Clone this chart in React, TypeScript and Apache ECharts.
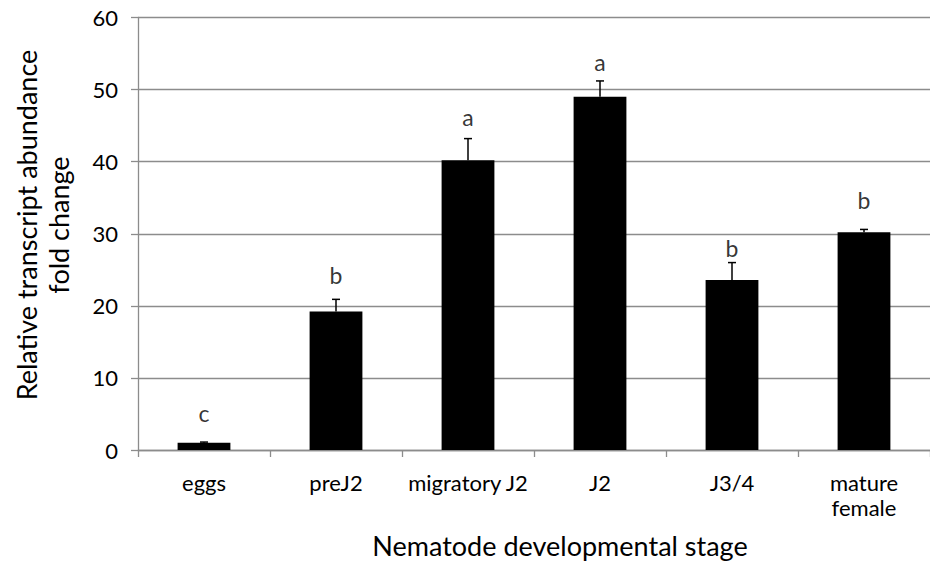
import React, { useEffect, useRef } from "react";
import * as echarts from "echarts";

const categories = ["eggs", "preJ2", "migratory J2", "J2", "J3/4", "mature\nfemale"];
const values = [1.0, 19.2, 40.2, 49.0, 23.6, 30.2];
const errors = [0.1, 1.7, 3.0, 2.2, 2.4, 0.4];
const letters = ["c", "b", "a", "a", "b", "b"];
const letterBaselines = [4.1, 23.3, 45.2, 52.8, 27.0, 33.7];
const yTicks = { min: 0, max: 60, interval: 10 };
const yTitle = "Relative transcript abundance\nfold change";
const xTitle = "Nematode developmental stage";

const FONT = "Lato, 'Open Sans', sans-serif";

export default function App() {
  const ref = useRef<HTMLDivElement>(null);
  useEffect(() => {
    if (!ref.current) return;
    document.body.style.margin = "0";
    const chart = echarts.init(ref.current, null, { renderer: "svg" });
    const errData = values.map((v, i) => [i, v, v + errors[i]]);
    chart.setOption({
      animation: false,
      backgroundColor: "#fff",
      grid: { left: 138, top: 17.5, bottom: 111, right: -12, containLabel: false },
      xAxis: {
        type: "category",
        data: categories,
        boundaryGap: true,
        axisLine: { lineStyle: { color: "#8c8c8c", width: 1.3 } },
        axisTick: { show: true, length: 7, alignWithLabel: false, lineStyle: { color: "#8c8c8c", width: 1.3 } },
        axisLabel: {
          color: "#000",
          fontFamily: FONT,
          fontSize: 22,
          lineHeight: 25,
          margin: 20,
          interval: 0,
        },
      },
      yAxis: {
        type: "value",
        min: yTicks.min,
        max: yTicks.max,
        interval: yTicks.interval,
        axisLine: { show: true, lineStyle: { color: "#8c8c8c", width: 1.3 } },
        axisTick: { show: true, length: 7, lineStyle: { color: "#8c8c8c", width: 1.3 } },
        splitLine: { show: true, lineStyle: { color: "#8c8c8c", width: 1.3 } },
        axisLabel: { color: "#000", fontFamily: FONT, fontSize: 22, margin: 20 },
      },
      graphic: [
        {
          type: "text",
          x: 42,
          y: 225,
          rotation: Math.PI / 2,
          style: {
            text: yTitle,
            fontFamily: FONT,
            fontSize: 27,
            lineHeight: 32,
            fill: "#000",
            align: "center",
            verticalAlign: "middle",
          },
        },
        {
          type: "text",
          x: 560,
          y: 545,
          style: {
            text: xTitle,
            fontFamily: FONT,
            fontSize: 27,
            fill: "#000",
            align: "center",
            verticalAlign: "middle",
          },
        },
      ],
      series: [
        {
          type: "bar",
          data: values,
          barWidth: "40%",
          itemStyle: { color: "#000" },
        },
        {
          type: "custom",
          data: errData,
          z: 3,
          renderItem: (params: any, api: any) => {
            const i = api.value(0);
            const top = api.coord([i, api.value(1)]);
            const hi = api.coord([i, api.value(2)]);
            const cap = 4;
            return {
              type: "group",
              children: [
                {
                  type: "line",
                  shape: { x1: top[0], y1: top[1], x2: hi[0], y2: hi[1] },
                  style: { stroke: "#000", lineWidth: 1.5 },
                },
                {
                  type: "line",
                  shape: { x1: hi[0] - cap, y1: hi[1], x2: hi[0] + cap, y2: hi[1] },
                  style: { stroke: "#000", lineWidth: 1.5 },
                },
              ],
            };
          },
        },
        {
          type: "scatter",
          data: letterBaselines.map((v, i) => [i, v]),
          symbolSize: 0,
          silent: true,
          label: {
            show: true,
            position: "top",
            distance: 0,
            offset: [0, 4],
            color: "#000",
            fontFamily: FONT,
            fontSize: 23,
            formatter: (p: any) => letters[p.dataIndex],
          },
        },
      ],
    });
    return () => chart.dispose();
  }, []);
  return <div ref={ref} style={{ width: 930, height: 561 }} />;
}
